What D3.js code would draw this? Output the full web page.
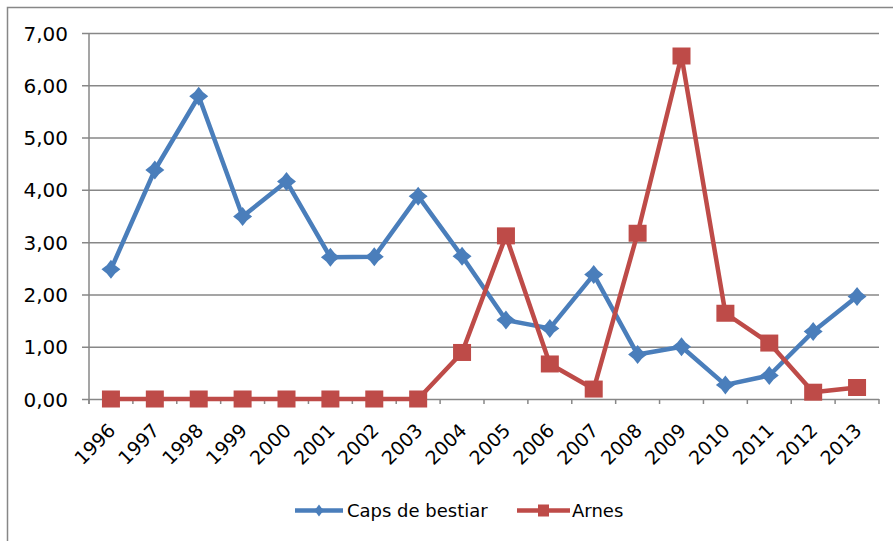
<!DOCTYPE html>
<html>
<head>
<meta charset="utf-8">
<script src="https://cdn.jsdelivr.net/npm/d3@7"></script>
<style>
  html, body { margin: 0; padding: 0; background: #fff; }
  svg { display: block; }
  text { font-family: "DejaVu Sans", sans-serif; fill: #000; }
</style>
</head>
<body>
<svg id="chart" width="893" height="541"></svg>
<script>
const years = ["1996","1997","1998","1999","2000","2001","2002","2003","2004","2005","2006","2007","2008","2009","2010","2011","2012","2013"];
const capsDeBestiar = [2.48, 4.38, 5.79, 3.49, 4.16, 2.71, 2.72, 3.88, 2.73, 1.51, 1.35, 2.38, 0.85, 1.00, 0.27, 0.45, 1.29, 1.96];
const arnes = [0, 0, 0, 0, 0, 0, 0, 0, 0.89, 3.12, 0.67, 0.19, 3.17, 6.56, 1.64, 1.07, 0.13, 0.22];
const yTicks = [0, 1, 2, 3, 4, 5, 6, 7];
const seriesNames = ["Caps de bestiar", "Arnes"];
const seriesColors = ["#4a7ebb", "#be4b48"];

const svg = d3.select("#chart");
const pLeft = 89, pRight = 879, pTop = 33, pBottom = 399;

const x = d3.scaleBand().domain(years).range([pLeft, pRight]);
const y = d3.scaleLinear().domain([0, 7]).range([pBottom, pTop]);
const gridColor = "#878787";

// outer border (partially visible)
svg.append("path")
  .attr("d", `M7.5,541 L7.5,7.5 L893,7.5`)
  .attr("fill", "none").attr("stroke", gridColor).attr("stroke-width", 1.5);

// gridlines + y labels
const yAxis = d3.axisLeft(y).tickValues(yTicks).tickSize(pRight - pLeft + 7)
  .tickFormat(d => d3.format(".2f")(d).replace(".", ","));
const gy = svg.append("g").attr("transform", `translate(${pRight},0)`).call(yAxis);
gy.select(".domain").remove();
gy.selectAll(".tick line").attr("stroke", gridColor).attr("stroke-width", 1.5);
gy.selectAll(".tick text")
  .attr("x", -(pRight - pLeft) - 21)
  .attr("dy", "0.35em")
  .attr("fill", "#000")
  .style("font-size", "20px")
  .style("font-family", "DejaVu Sans, sans-serif");

// y axis line
svg.append("line").attr("x1", pLeft).attr("x2", pLeft).attr("y1", pTop).attr("y2", pBottom + 5)
  .attr("stroke", gridColor).attr("stroke-width", 1.5);

// x ticks at band boundaries
const boundaries = years.map(d => x(d)).concat([pRight]);
svg.append("g").selectAll("line").data(boundaries).join("line")
  .attr("x1", d => d).attr("x2", d => d).attr("y1", pBottom).attr("y2", pBottom + 5)
  .attr("stroke", gridColor).attr("stroke-width", 1.5);

// x labels
svg.append("g").selectAll("text").data(years).join("text")
  .attr("transform", d => `translate(${x(d) + x.bandwidth() / 2 + 1},${pBottom + 28}) rotate(-45)`)
  .attr("text-anchor", "end")
  .attr("dy", "0.35em")
  .style("font-size", "19px")
  .text(d => d);

const cx = d => x(d) + x.bandwidth() / 2;

function starPath(r, ri) {
  return `M0,${-r} L${ri},${-ri} L${r},0 L${ri},${ri} L0,${r} L${-ri},${ri} L${-r},0 L${-ri},${-ri} Z`;
}

const line = d3.line().x((d, i) => cx(years[i])).y(d => y(d));

// Caps de bestiar
svg.append("path").datum(capsDeBestiar).attr("d", line)
  .attr("fill", "none").attr("stroke", seriesColors[0]).attr("stroke-width", 4.5).attr("stroke-linejoin", "round");
svg.append("g").selectAll("path").data(capsDeBestiar).join("path")
  .attr("transform", (d, i) => `translate(${cx(years[i])},${y(d)})`)
  .attr("d", starPath(9.5, 4.2))
  .attr("fill", seriesColors[0]);

// Arnes
svg.append("path").datum(arnes).attr("d", line)
  .attr("fill", "none").attr("stroke", seriesColors[1]).attr("stroke-width", 4.5).attr("stroke-linejoin", "round");
svg.append("g").selectAll("rect").data(arnes).join("rect")
  .attr("x", (d, i) => cx(years[i]) - 9).attr("y", d => y(d) - 8.5)
  .attr("width", 18).attr("height", 17)
  .attr("fill", seriesColors[1]);

// legend
const ly = 510.5;
const lg = svg.append("g");
lg.append("line").attr("x1", 295).attr("x2", 343).attr("y1", ly).attr("y2", ly)
  .attr("stroke", seriesColors[0]).attr("stroke-width", 4.5);
lg.append("path").attr("transform", `translate(319,${ly})`).attr("d", starPath(6, 2.6)).attr("fill", seriesColors[0]);
lg.append("text").attr("x", 347).attr("y", ly).attr("dy", "0.35em").style("font-size", "18px").text(seriesNames[0]);

lg.append("line").attr("x1", 517).attr("x2", 570).attr("y1", ly).attr("y2", ly)
  .attr("stroke", seriesColors[1]).attr("stroke-width", 4.5);
lg.append("rect").attr("x", 538).attr("y", ly - 6).attr("width", 11).attr("height", 12).attr("fill", seriesColors[1]);
lg.append("text").attr("x", 572).attr("y", ly).attr("dy", "0.35em").style("font-size", "18px").text(seriesNames[1]);
</script>
</body>
</html>
